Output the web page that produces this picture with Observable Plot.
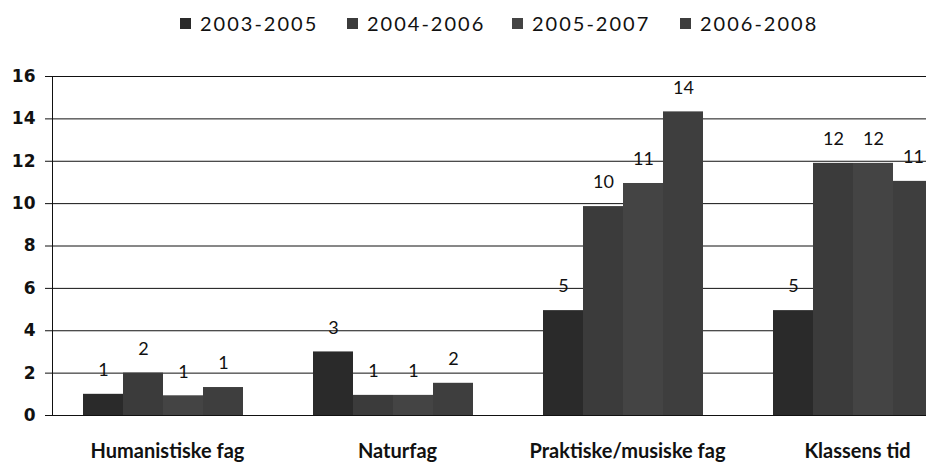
<!DOCTYPE html>
<html><head><meta charset="utf-8">
<script src="https://cdn.jsdelivr.net/npm/d3@7"></script>
<script src="https://cdn.jsdelivr.net/npm/@observablehq/plot@0.6"></script>
<style>
html,body{margin:0;padding:0;background:#fff;overflow:hidden}
#legend{position:relative;width:926px;height:46px;font-family:Lato,sans-serif;font-size:20px;letter-spacing:2px;color:#111}
.item{position:absolute;top:10px;display:flex;align-items:center;line-height:26px;white-space:nowrap}
.sw{width:11px;height:11px;margin-right:9px;display:inline-block}
[aria-label^="y-axis"] text{font-family:"DejaVu Sans",sans-serif;font-weight:bold;font-size:17px;fill:#111}
[aria-label^="fx-axis"] text{font-family:Lato,sans-serif;font-weight:bold;font-size:20px;fill:#111}
</style></head>
<body><div id="legend"></div><div id="chart"></div>
<script>
const categories = ["Humanistiske fag", "Naturfag", "Praktiske/musiske fag", "Klassens tid"];
const seriesNames = ["2003-2005", "2004-2006", "2005-2007", "2006-2008"];
const values2003_2005 = [1.0, 3.0, 4.95, 4.95];
const values2004_2006 = [2.0, 0.95, 9.86, 11.9];
const values2005_2007 = [0.93, 0.95, 10.95, 11.9];
const values2006_2008 = [1.32, 1.52, 14.33, 11.05];
const yTicks = [0, 2, 4, 6, 8, 10, 12, 14, 16];
const seriesColors = ["#2a2a2a", "#3b3b3b", "#444444", "#3e3e3e"];

const seriesValues = [values2003_2005, values2004_2006, values2005_2007, values2006_2008];
const data = categories.flatMap((c, i) => seriesNames.map((s, j) => ({category: c, series: s, value: seriesValues[j][i]})));

// legend
const legendLeft = [180, 347, 512, 680];
const legend = document.getElementById("legend");
seriesNames.forEach((s, j) => {
  const it = document.createElement("div");
  it.className = "item";
  it.style.left = legendLeft[j] + "px";
  const sw = document.createElement("span");
  sw.className = "sw";
  sw.style.background = seriesColors[j];
  it.appendChild(sw);
  it.appendChild(document.createTextNode(s));
  legend.appendChild(it);
});

const fmt = d3.format(".0f");
const chart = Plot.plot({
  width: 926,
  height: 428,
  marginTop: 30,
  marginBottom: 59,
  marginLeft: 52,
  marginRight: -46,
  style: {background: "white", overflow: "hidden", color: "#111"},
  facet: {data, x: "category"},
  fx: {domain: categories, padding: 0, axis: "bottom", label: null, tickSize: 0, tickPadding: 28},
  x: {domain: seriesNames, axis: null, paddingInner: 0, paddingOuter: 0.805, align: 0.44},
  y: {domain: [0, 16], ticks: yTicks, tickSize: 7, tickPadding: 10, label: null, line: true},
  color: {domain: seriesNames, range: seriesColors},
  marks: [
    Plot.ruleY(yTicks, {stroke: "#111", strokeWidth: 1}),
    Plot.barY(data, {x: "series", y: "value", fill: "series"}),
    Plot.text(data, {x: "series", y: "value", text: d => fmt(d.value), dy: -24, fontSize: 18, fontFamily: "Lato, sans-serif", fill: "#111"})
  ]
});
document.getElementById("chart").appendChild(chart);
</script>
</body></html>
